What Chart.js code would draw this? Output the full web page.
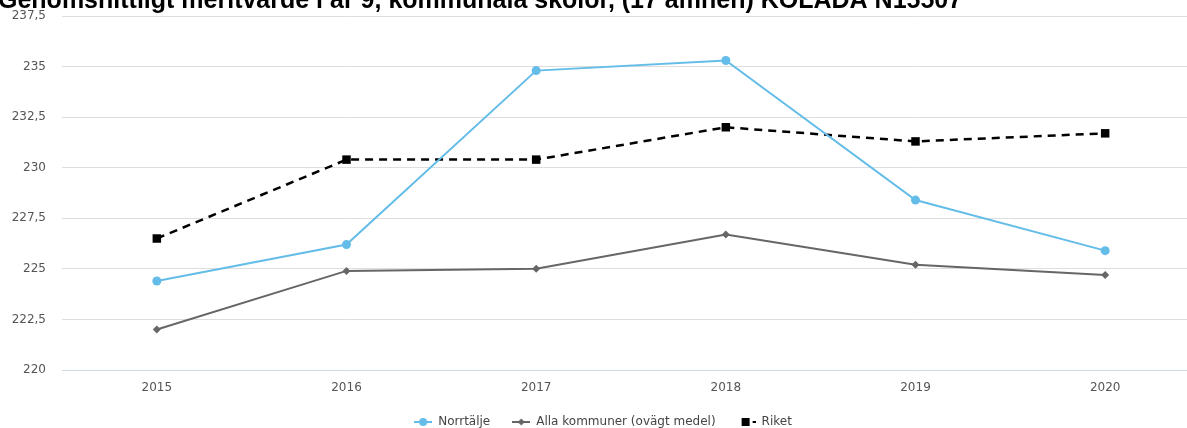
<!DOCTYPE html>
<html>
<head>
<meta charset="utf-8">
<script src="https://cdn.jsdelivr.net/npm/chart.js@4.4.0/dist/chart.umd.min.js"></script>
<style>
  html, body { margin: 0; padding: 0; background: #fff; overflow: hidden; }
  #wrap { position: relative; width: 1187px; height: 428px; overflow: hidden; }
  canvas { position: absolute; left: 0; top: 0; }
</style>
</head>
<body>
<div id="wrap"><canvas id="c" width="1206" height="438"></canvas></div>
<script>
const titleText = "Genomsnittligt meritvärde i år 9, kommunala skolor, (17 ämnen) KOLADA N15507";
const categories = ["2015", "2016", "2017", "2018", "2019", "2020"];
const norrtalje = [224.4, 226.2, 234.8, 235.3, 228.4, 225.9];
const allaKommuner = [222.0, 224.9, 225.0, 226.7, 225.2, 224.7];
const riket = [226.5, 230.4, 230.4, 232.0, 231.3, 231.7];
const seriesNames = ["Norrtälje", "Alla kommuner (ovägt medel)", "Riket"];
const yMin = 220, yMax = 237.5, yStep = 2.5;

const BLUE = "#64bde8", GRAY = "#666666", BLACK = "#000000";
const FONT = "'DejaVu Sans', sans-serif";

function legendIcon(color, kind) {
  const c = document.createElement("canvas");
  c.width = 18; c.height = 10;
  const g = c.getContext("2d");
  g.strokeStyle = color; g.fillStyle = color; g.lineWidth = 2;
  if (kind === "rect") {
    g.beginPath(); g.setLineDash([3, 3]); g.moveTo(9, 5); g.lineTo(18, 5); g.stroke();
    g.fillRect(4, 1, 8, 8);
  } else {
    g.beginPath(); g.moveTo(0, 5); g.lineTo(18, 5); g.stroke();
    g.beginPath();
    if (kind === "circle") { g.arc(9, 5, 4, 0, Math.PI * 2); }
    else { g.moveTo(9, 1.5); g.lineTo(12.5, 5); g.lineTo(9, 8.5); g.lineTo(5.5, 5); g.closePath(); }
    g.fill();
  }
  return c;
}
const icons = [legendIcon(BLUE, "circle"), legendIcon(GRAY, "diamond"), legendIcon(BLACK, "rect")];

const titlePlugin = {
  id: "clippedTitle",
  afterDraw(chart) {
    const ctx = chart.ctx;
    ctx.save();
    ctx.font = "bold 25px 'Liberation Sans', Arial, sans-serif";
    ctx.fillStyle = "#000";
    ctx.textBaseline = "alphabetic";
    ctx.textAlign = "left";
    ctx.fillText(titleText, -2, 8);
    ctx.restore();
  }
};

new Chart(document.getElementById("c"), {
  type: "line",
  data: {
    labels: categories,
    datasets: [
      { label: seriesNames[0], data: norrtalje, borderColor: BLUE, backgroundColor: BLUE,
        borderWidth: 2, pointStyle: "circle", pointRadius: 4.5, pointBorderWidth: 0, tension: 0 },
      { label: seriesNames[1], data: allaKommuner, borderColor: GRAY, backgroundColor: GRAY,
        borderWidth: 2, pointStyle: "rectRot", pointRadius: 4, pointBorderWidth: 0, tension: 0 },
      { label: seriesNames[2], data: riket, borderColor: BLACK, backgroundColor: BLACK,
        borderWidth: 2.5, borderDash: [8, 6], pointStyle: "rect", pointRadius: 6, pointBorderWidth: 0, tension: 0 }
    ]
  },
  options: {
    responsive: false,
    devicePixelRatio: 1,
    animation: false,
    layout: { padding: { top: 16, right: 0, left: 0, bottom: 0 } },
    plugins: {
      tooltip: { enabled: false },
      legend: {
        position: "bottom",
        labels: {
          usePointStyle: true,
          pointStyleWidth: 18,
          padding: 22,
          color: "#444",
          font: { family: FONT, size: 12 },
          generateLabels(chart) {
            const items = Chart.defaults.plugins.legend.labels.generateLabels(chart);
            items.forEach((it, i) => { it.pointStyle = icons[i]; });
            return items;
          }
        }
      }
    },
    scales: {
      x: {
        offset: true,
        grid: { display: false, drawTicks: false },
        border: { display: false },
        ticks: { color: "#555", font: { family: FONT, size: 12 }, padding: 11 },
        afterFit(s) { s.height = 24; }
      },
      y: {
        min: yMin, max: yMax,
        grid: {
          color: (c) => c.tick && c.tick.value === yMin ? "#cdd8e3" : "#dedede",
          drawTicks: true, tickLength: 16, tickColor: "rgba(0,0,0,0)", lineWidth: 1
        },
        border: { display: false },
        ticks: {
          stepSize: yStep, padding: 0, color: "#555",
          font: { family: FONT, size: 12 },
          callback: (v) => String(v).replace(".", ",")
        },
        afterFit(s) { s.width = 62; }
      }
    }
  },
  plugins: [titlePlugin]
});
</script>
</body>
</html>
